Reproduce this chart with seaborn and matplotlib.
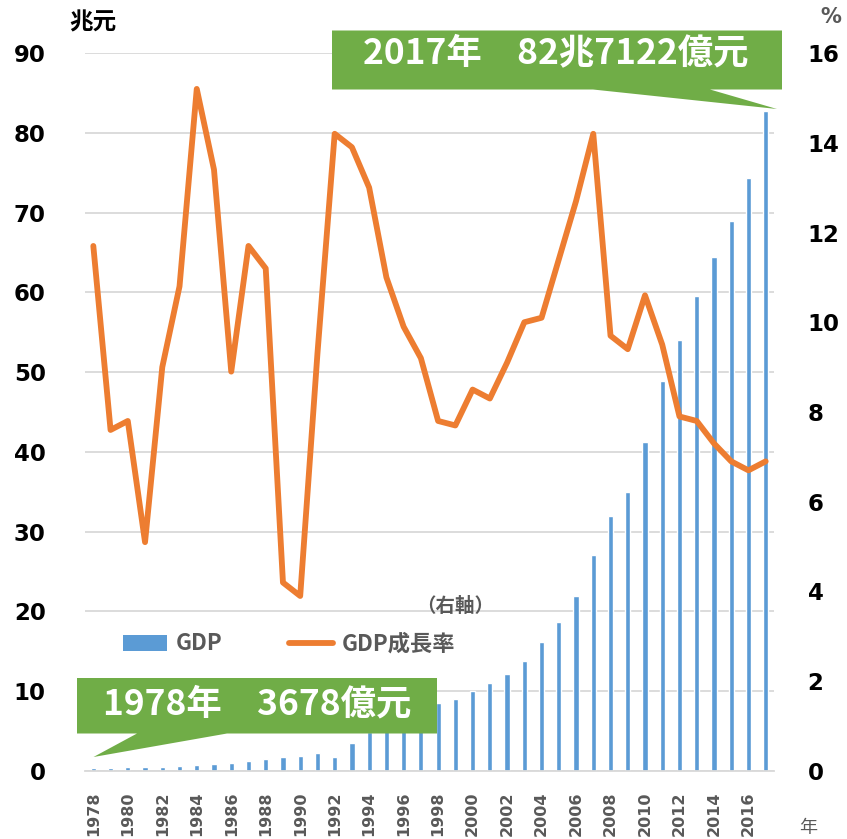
import matplotlib
matplotlib.use('Agg')
import matplotlib.pyplot as plt
import seaborn as sns
import pandas as pd
import numpy as np
from matplotlib.patches import Polygon, Patch
from matplotlib.lines import Line2D

# ---------------- data ----------------
years = [1978, 1979, 1980, 1981, 1982, 1983, 1984, 1985, 1986, 1987,
         1988, 1989, 1990, 1991, 1992, 1993, 1994, 1995, 1996, 1997,
         1998, 1999, 2000, 2001, 2002, 2003, 2004, 2005, 2006, 2007,
         2008, 2009, 2010, 2011, 2012, 2013, 2014, 2015, 2016, 2017]
gdp = [0.37, 0.41, 0.46, 0.49, 0.54, 0.60, 0.73, 0.91, 1.04, 1.22,
       1.52, 1.72, 1.89, 2.20, 1.72, 3.57, 4.86, 6.13, 7.18, 7.97,
       8.52, 9.06, 10.03, 11.09, 12.17, 13.74, 16.18, 18.73, 21.94, 27.02,
       31.95, 34.91, 41.30, 48.93, 54.04, 59.52, 64.40, 68.91, 74.36, 82.71]
growth = [11.7, 7.6, 7.8, 5.1, 9.0, 10.8, 15.2, 13.4, 8.9, 11.7,
          11.2, 4.2, 3.9, 9.3, 14.2, 13.9, 13.0, 11.0, 9.9, 9.2,
          7.8, 7.7, 8.5, 8.3, 9.1, 10.0, 10.1, 11.4, 12.7, 14.2,
          9.7, 9.4, 10.6, 9.5, 7.9, 7.8, 7.3, 6.9, 6.7, 6.9]
left_ticks = [0, 10, 20, 30, 40, 50, 60, 70, 80, 90]
right_ticks = [0, 2, 4, 6, 8, 10, 12, 14, 16]
legend_labels = ['GDP', 'GDP成長率']
callout_first = '1978年　3678億元'
callout_last = '2017年　82兆7122億元'

BLUE = '#5B9BD5'
ORANGE = '#ED7D31'
GREEN = '#70AD47'
GRID = '#D9D9D9'
GRAY = '#595959'
CJK = ['Noto Sans CJK JP', 'DejaVu Sans']

sns.set_theme(style='white')
plt.rcParams['font.family'] = ['DejaVu Sans', 'Noto Sans CJK JP']

df = pd.DataFrame({'year': [str(y) for y in years], 'gdp': gdp, 'growth': growth})
df['pos'] = np.arange(len(df))

W, H = 847, 839
fig = plt.figure(figsize=(W / 100, H / 100), dpi=100)
fig.patch.set_facecolor('white')


def fx(x):
    return x / W


def fy(y):
    return 1 - y / H


ax = fig.add_axes([fx(84.7), fy(771), (774.3 - 84.7) / W, (771 - 53) / H])
sns.barplot(data=df, x='year', y='gdp', color=BLUE, saturation=1, width=0.3,
            ax=ax, zorder=2)

ax2 = ax.twinx()
sns.lineplot(data=df, x='pos', y='growth', ax=ax2, color=ORANGE, lw=4.2,
             solid_joinstyle='round', solid_capstyle='round')

ax.set_xlim(-0.5, len(years) - 0.5)
ax.set_ylim(0, 90)
ax2.set_ylim(0, 16)
for a in (ax, ax2):
    a.set_xlabel('')
    a.set_ylabel('')
    for s in a.spines.values():
        s.set_visible(False)
ax.spines['bottom'].set_visible(True)
ax.spines['bottom'].set_color(GRID)
ax.spines['bottom'].set_linewidth(1.3)

ax.yaxis.grid(True, color=GRID, lw=1.3)
ax.xaxis.grid(False)
ax2.grid(False)
ax.set_axisbelow(True)

# x ticks
ax.set_xticks(df['pos'][::2])
ax.set_xticklabels(df['year'][::2], rotation=90, fontsize=11.5,
                   fontweight='bold', color=GRAY)
ax.set_xticks(np.arange(-0.5, len(years), 1), minor=True)
ax.tick_params(axis='x', which='major', length=0, pad=14.5)
ax.tick_params(axis='x', which='minor', length=6, width=1.3, color=GRID,
               direction='out')

# y ticks
ax.set_yticks(left_ticks)
ax.tick_params(axis='y', length=0, pad=28, labelsize=16.5, labelcolor='black')
for lbl in ax.get_yticklabels():
    lbl.set_fontweight('bold')
ax2.set_yticks(right_ticks)
ax2.tick_params(axis='y', length=0, pad=24, labelsize=16.5, labelcolor='black')
for lbl in ax2.get_yticklabels():
    lbl.set_fontweight('bold')

# axis unit labels
fig.text(fx(93), fy(22), '兆元', ha='center', va='center', fontsize=17,
         fontweight='bold', color='black', family=CJK)
fig.text(fx(831), fy(17), '%', ha='center', va='center', fontsize=15,
         fontweight='bold', color=GRAY)
fig.text(fx(808), fy(828), '年', ha='center', va='center', fontsize=13,
         color=GRAY, family=CJK)
fig.text(fx(455), fy(606), '（右軸）', ha='center', va='center', fontsize=14,
         fontweight='bold', color=GRAY, family=CJK)

# legend
handles = [Patch(facecolor=BLUE, edgecolor='none'),
           Line2D([], [], color=ORANGE, lw=4.2, solid_capstyle='round')]
fig.legend(handles, legend_labels, loc='center left',
           bbox_to_anchor=(fx(123), fy(644)), ncol=2, frameon=False,
           borderpad=0, borderaxespad=0, handlelength=2.0,
           handletextpad=0.36, columnspacing=3.0,
           prop={'family': CJK, 'size': 16, 'weight': 'bold'},
           labelcolor=GRAY)

# callouts
c1 = [(77, 678), (437, 678), (437, 733.5), (227, 733.5), (93.5, 757),
      (137, 733.5), (77, 733.5)]
c2 = [(332, 30.5), (782, 30.5), (782, 89.5), (710, 89.5), (777, 109),
      (593, 89.5), (332, 89.5)]
for pts in (c1, c2):
    fig.add_artist(Polygon([(fx(x), fy(y)) for x, y in pts], closed=True,
                           transform=fig.transFigure, facecolor=GREEN,
                           edgecolor='none', zorder=8))
fig.text(fx(257), fy(704), callout_first, ha='center', va='center',
         fontsize=25.5, fontweight='bold', color='white', family=CJK, zorder=9)
fig.text(fx(556), fy(53), callout_last, ha='center', va='center',
         fontsize=25.5, fontweight='bold', color='white', family=CJK, zorder=9)

fig.savefig('out.png', dpi=100, facecolor='white')
